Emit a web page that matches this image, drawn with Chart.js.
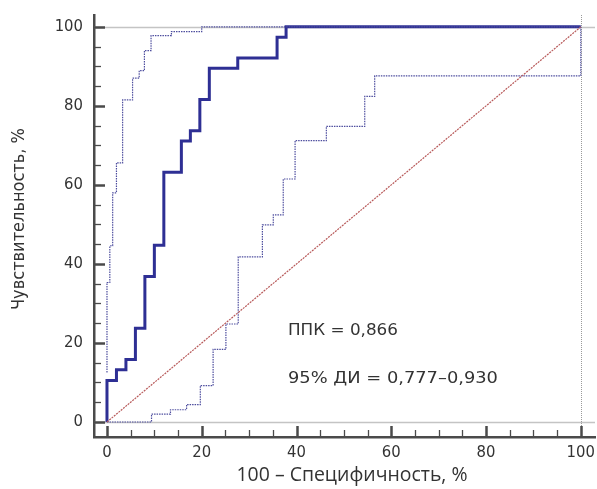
<!DOCTYPE html>
<html>
<head>
<meta charset="utf-8">
<script src="https://cdn.jsdelivr.net/npm/chart.js@4.4.1/dist/chart.umd.min.js"></script>
<style>
  html, body { margin: 0; padding: 0; background: #fff; }
  #wrap { width: 597px; height: 489px; position: relative; }
</style>
</head>
<body>
<div id="wrap"><canvas id="c"></canvas></div>
<script>
// ---- Data ----
const xTickValues = [0,5,10,15,20,25,30,35,40,45,50,55,60,65,70,75,80,85,90,95,100];
const yTickValues = [0,5,10,15,20,25,30,35,40,45,50,55,60,65,70,75,80,85,90,95,100];
const xTitle = "100 \u2013 Специфичность, %";
const yTitle = "Чувствительность, %";
const aucText = "ППК = 0,866";
const ciText = "95% ДИ = 0,777\u20130,930";

// ROC curve vertices (100 - specificity, sensitivity)
const rocX = [0,0,2,2,4,4,6,6,8,8,10,10,12,12,15.7,15.7,17.6,17.6,19.6,19.6,21.6,21.6,27.6,27.6,35.9,35.9,37.8,37.8,100];
const rocY = [0,10.5,10.5,13.2,13.2,15.8,15.8,23.7,23.7,36.8,36.8,44.7,44.7,63.2,63.2,71.1,71.1,73.7,73.7,81.6,81.6,89.5,89.5,92.1,92.1,97.4,97.4,100,100];

// Upper 95% confidence bound
const upX = [0,0,0.6,0.6,1.2,1.2,2,2,3.3,3.3,5.4,5.4,6.8,6.8,7.9,7.9,9.3,9.3,13.6,13.6,20,20,100];
const upY = [12.5,35.3,35.3,44.6,44.6,58,58,65.6,65.6,81.5,81.5,87,87,88.9,88.9,94,94,97.8,97.8,98.8,98.8,100,100];

// Lower 95% confidence bound
const loX = [0,9.4,9.4,13.4,13.4,16.8,16.8,19.7,19.7,22.4,22.4,25.1,25.1,27.7,27.7,32.8,32.8,35.1,35.1,37.2,37.2,39.7,39.7,46.3,46.3,54.4,54.4,56.5,56.5,100,100];
const loY = [0,0,2.0,2.0,3.1,3.1,4.4,4.4,9.2,9.2,18.4,18.4,24.8,24.8,41.8,41.8,49.9,49.9,52.4,52.4,61.5,61.5,71.2,71.2,74.8,74.8,82.4,82.4,87.6,87.6,100];

// Reference (chance) diagonal
const diagX = [0,100];
const diagY = [0,100];

// ---- Helpers ----
const pts = (xs, ys) => xs.map((x, i) => ({x: x, y: ys[i]}));

const AXIS_COLOR = '#4a4a4a';
const TEXT_COLOR = '#333333';

// draw text with its width fitted to a target width (horizontal scale only)
function fitText(ctx, text, cx, cy, width, font, align, rot) {
  ctx.save();
  ctx.font = font;
  const w = ctx.measureText(text).width;
  ctx.translate(cx, cy);
  if (rot) ctx.rotate(rot);
  ctx.scale(width / w, 1);
  ctx.textAlign = align;
  ctx.textBaseline = 'middle';
  ctx.fillText(text, 0, 0);
  ctx.restore();
}

const decorPlugin = {
  id: 'decor',
  beforeDatasetsDraw(chart) {
    const {ctx, chartArea: a, scales: {x, y}} = chart;
    ctx.save();
    ctx.strokeStyle = '#c4c4c4';
    ctx.lineWidth = 1.5;
    [0, 100].forEach(v => {
      const py = Math.round(y.getPixelForValue(v)) + 0.5;
      ctx.beginPath(); ctx.moveTo(a.left, py); ctx.lineTo(a.right, py); ctx.stroke();
    });
    ctx.setLineDash([1, 1]);
    ctx.strokeStyle = '#9a9a9a';
    ctx.lineWidth = 1;
    const px = Math.round(x.getPixelForValue(100)) + 0.5;
    ctx.beginPath(); ctx.moveTo(px, a.top); ctx.lineTo(px, a.bottom); ctx.stroke();
    ctx.restore();
  },
  afterDraw(chart) {
    const {ctx, chartArea: a, scales: {x, y}} = chart;
    ctx.save();
    // inward ticks
    ctx.strokeStyle = AXIS_COLOR;
    xTickValues.forEach(v => {
      const major = v % 20 === 0;
      const px = Math.round(x.getPixelForValue(v)) + 0.5;
      ctx.lineWidth = major ? 2.5 : 1.3;
      ctx.beginPath(); ctx.moveTo(px, a.bottom); ctx.lineTo(px, a.bottom - (major ? 11 : 7)); ctx.stroke();
    });
    yTickValues.forEach(v => {
      const major = v % 20 === 0;
      const py = Math.round(y.getPixelForValue(v)) + 0.5;
      ctx.lineWidth = major ? 2.5 : 1.3;
      ctx.beginPath(); ctx.moveTo(a.left, py); ctx.lineTo(a.left + (major ? 11 : 7), py); ctx.stroke();
    });
    ctx.fillStyle = TEXT_COLOR;
    // annotations
    const ax = x.getPixelForValue(38.2);
    fitText(ctx, aucText, ax, y.getPixelForValue(23.0), 110, '16.5px "DejaVu Sans", sans-serif', 'left');
    fitText(ctx, ciText, ax, y.getPixelForValue(10.9), 210, '16.5px "DejaVu Sans", sans-serif', 'left');
    // axis titles
    fitText(ctx, xTitle, 352, 475, 231, '19.5px "Open Sans", "Noto Sans", sans-serif', 'center');
    fitText(ctx, yTitle, 20, 219, 182, '17px "DejaVu Sans Condensed", "DejaVu Sans", sans-serif', 'center', -Math.PI / 2);
    ctx.restore();
  }
};

const tickFont = {family: '"DejaVu Sans Condensed", "DejaVu Sans", sans-serif', size: 16.5};

function stripPadding(s) { s.paddingLeft = 0; s.paddingRight = 0; s.paddingTop = 0; s.paddingBottom = 0; }

new Chart(document.getElementById('c'), {
  type: 'scatter',
  data: {
    datasets: [
      {data: pts(diagX, diagY), showLine: true, borderColor: '#b85a5a', borderWidth: 1.2, borderDash: [2, 1], pointRadius: 0},
      {data: pts(loX, loY), showLine: true, borderColor: '#4d4d9e', borderWidth: 1.2, borderDash: [1.5, 1], pointRadius: 0},
      {data: pts(upX, upY), showLine: true, borderColor: '#4d4d9e', borderWidth: 1.2, borderDash: [1.5, 1], pointRadius: 0},
      {data: pts(rocX, rocY), showLine: true, borderColor: '#2e2f94', borderWidth: 3, pointRadius: 0, borderJoinStyle: 'miter'}
    ]
  },
  options: {
    responsive: true,
    maintainAspectRatio: false,
    animation: false,
    layout: {padding: {top: 15, right: 2, left: 0, bottom: 0}},
    plugins: {legend: {display: false}, tooltip: {enabled: false}},
    scales: {
      x: {
        type: 'linear', min: -2.74, max: 103,
        grid: {display: false, drawTicks: false},
        border: {display: true, color: AXIS_COLOR, width: 2.5},
        afterBuildTicks: s => { s.ticks = xTickValues.map(v => ({value: v})); },
        afterFit: s => { s.height = 52; stripPadding(s); },
        ticks: {autoSkip: false, maxRotation: 0, padding: 6, color: TEXT_COLOR, font: tickFont,
                callback: v => (v % 20 === 0 ? String(v) : '')}
      },
      y: {
        type: 'linear', min: -3.8, max: 103,
        grid: {display: false, drawTicks: false},
        border: {display: true, color: AXIS_COLOR, width: 2.5},
        afterBuildTicks: s => { s.ticks = yTickValues.map(v => ({value: v})); },
        afterFit: s => { s.width = 94; stripPadding(s); },
        ticks: {autoSkip: false, padding: 11, color: TEXT_COLOR, font: tickFont,
                callback: v => (v % 20 === 0 ? String(v) : '')}
      }
    }
  },
  plugins: [decorPlugin]
});
</script>
</body>
</html>
